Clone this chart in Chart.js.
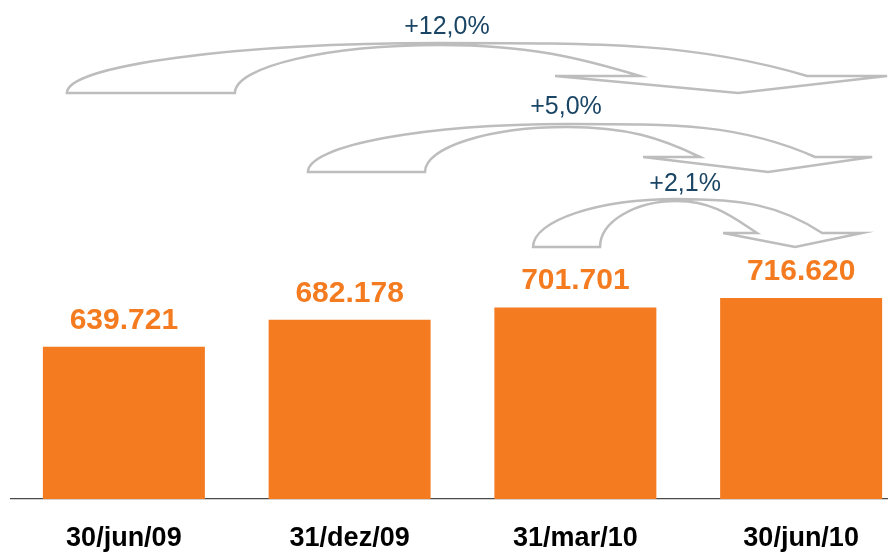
<!DOCTYPE html>
<html>
<head>
<meta charset="utf-8">
<script src="https://cdn.jsdelivr.net/npm/chart.js@4/dist/chart.umd.min.js"></script>
<style>
html,body{margin:0;padding:0;background:#fff;overflow:hidden}
#wrap{width:888px;height:553px;overflow:hidden;position:relative}
canvas{display:block}
</style>
</head>
<body>
<div id="wrap"><canvas id="c" width="914" height="553" style="width:914px;height:553px"></canvas></div>
<script>
// ---- data ----
const categories = ['30/jun/09', '31/dez/09', '31/mar/10', '30/jun/10'];
const balances = [639721, 682178, 701701, 716620];
const growthLabels = ['+12,0%', '+5,0%', '+2,1%'];

// ---- decorative curved arrows (x in category units, y in px) ----
const arrowShapes = [
  {ot:-0.2526, it:0.4919, ap:1.4003, ie:2.2865, lb:1.9099, tp:2.7208, oe:3.0265, rb:3.3810,
   ty:93, hy:76, tipY:93, oy:43, iy:45, s:0.30, labelU:1.431, labelY:34},
  {ot:0.8153, it:1.3338, ap:1.9630, ie:2.5524, lb:2.2998, tp:2.8537, oe:3.0620, rb:3.3146,
   ty:172, hy:157, tipY:172, oy:124, iy:127, s:0.48, labelU:1.9586, labelY:114},
  {ot:1.8124, it:2.1093, ap:2.4505, ie:2.8050, lb:2.6543, tp:2.9734, oe:3.0930, rb:3.2703,
   ty:247, hy:233, tipY:247, oy:199, iy:201, s:0.65, labelU:2.486, labelY:191}
];

const ORANGE = '#F47B20';

function fmtThousands(v){
  return String(v).replace(/\B(?=(\d{3})+(?!\d))/g, '.');
}

const valueLabels = {
  id: 'valueLabels',
  afterDatasetsDraw(chart){
    const ctx = chart.ctx;
    const meta = chart.getDatasetMeta(0);
    ctx.save();
    ctx.font = 'bold 30px "Liberation Sans", Arial, sans-serif';
    ctx.fillStyle = ORANGE;
    ctx.textAlign = 'center';
    ctx.textBaseline = 'alphabetic';
    meta.data.forEach((bar, i) => {
      ctx.fillText(fmtThousands(balances[i]), bar.x, bar.y - 18);
    });
    ctx.restore();
  }
};

const curvedArrows = {
  id: 'curvedArrows',
  afterDraw(chart){
    const ctx = chart.ctx;
    const xs = chart.scales.x;
    const X = u => xs.getPixelForValue(u);
    const k = 0.55;
    arrowShapes.forEach((a, idx) => {
      const ox0 = X(a.ot), ix0 = X(a.it), xa = X(a.ap), ixE = X(a.ie),
            lb = X(a.lb), tp = X(a.tp), oxE = X(a.oe), rb = X(a.rb);
      ctx.save();
      ctx.beginPath();
      ctx.moveTo(ox0, a.ty);
      ctx.bezierCurveTo(ox0, a.ty - k*(a.ty - a.oy), xa - k*(xa - ox0), a.oy, xa, a.oy);
      let dx = oxE - xa, L = 0.3*dx;
      ctx.bezierCurveTo(xa + 0.45*dx, a.oy, oxE - L, Math.max(a.oy, a.hy - a.s*L), oxE, a.hy);
      ctx.lineTo(rb, a.hy);
      ctx.lineTo(tp, a.tipY);
      ctx.lineTo(lb, a.hy);
      ctx.lineTo(ixE, a.hy);
      let dxi = ixE - xa, Li = 0.3*dxi;
      ctx.bezierCurveTo(ixE - Li, Math.max(a.iy, a.hy - a.s*Li), xa + 0.45*dxi, a.iy, xa, a.iy);
      ctx.bezierCurveTo(xa - k*(xa - ix0), a.iy, ix0, a.ty - k*(a.ty - a.iy), ix0, a.ty);
      ctx.closePath();
      ctx.fillStyle = '#ffffff';
      ctx.fill();
      ctx.strokeStyle = '#BDBDBD';
      ctx.lineWidth = 2.5;
      ctx.lineJoin = 'miter';
      ctx.stroke();
      ctx.font = '25px "Liberation Sans", Arial, sans-serif';
      ctx.fillStyle = '#1A4564';
      ctx.textAlign = 'center';
      ctx.textBaseline = 'alphabetic';
      ctx.fillText(growthLabels[idx], X(a.labelU), a.labelY);
      ctx.restore();
    });
  }
};

new Chart(document.getElementById('c'), {
  type: 'bar',
  data: {
    labels: categories,
    datasets: [{
      data: balances,
      backgroundColor: ORANGE,
      borderWidth: 0,
      barPercentage: 1,
      categoryPercentage: 0.7176
    }]
  },
  options: {
    responsive: false,
    animation: false,
    devicePixelRatio: 1,
    layout: { padding: { left: 11, right: 0, top: 0, bottom: 0 } },
    plugins: { legend: { display: false }, tooltip: { enabled: false } },
    scales: {
      x: {
        offset: true,
        grid: { display: false, drawTicks: false, tickLength: 0 },
        border: { display: true, color: '#4a4a4a', width: 1.2 },
        afterFit(scale){ scale.height = 54; },
        ticks: {
          color: '#000',
          padding: 26,
          maxRotation: 0,
          font: { family: '"Liberation Sans", Arial, sans-serif', size: 27, weight: 'bold', lineHeight: 28/27 }
        }
      },
      y: {
        display: false,
        min: 400000,
        max: 1186000
      }
    }
  },
  plugins: [valueLabels, curvedArrows]
});
</script>
</body>
</html>
